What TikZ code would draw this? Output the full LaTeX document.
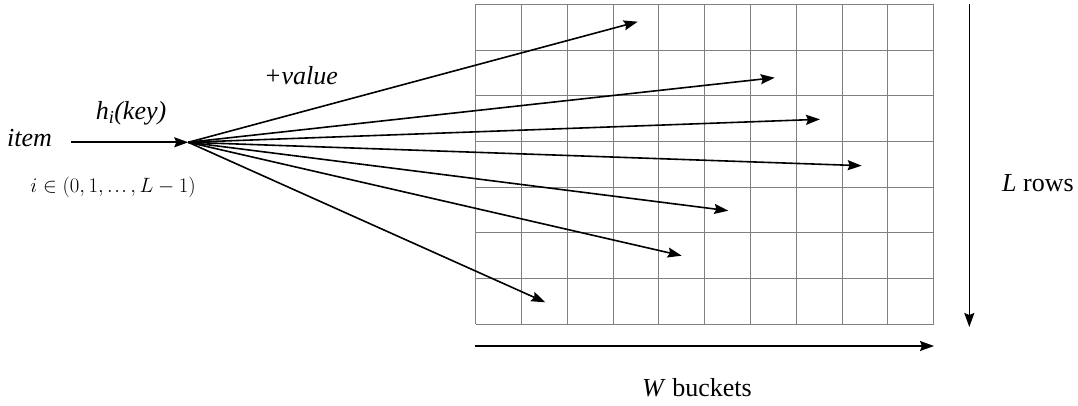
\documentclass[tikz,border=0pt]{standalone}
\usepackage{fontspec}
\setmainfont{Liberation Serif}
\usetikzlibrary{arrows.meta}
\tikzset{
  gridline/.style={draw=black!50, line width=0.9pt},
  arr/.style={draw=black, line width=1.6pt, -{Stealth[length=14pt,width=10pt,inset=2pt]}},
  lbl/.style={inner sep=0pt, font=\fontsize{26}{31}\selectfont},
  mlbl/.style={inner sep=0pt, font=\fontsize{22}{27}\selectfont},
}
\begin{document}
\begin{tikzpicture}[x=1pt,y=-1pt]
\useasboundingbox[fill=white] (0,0) rectangle (1078,406);
% grid
\foreach \i in {0,...,10} {
  \draw[gridline] ({475.7+\i*45.8},4.3) -- ({475.7+\i*45.8},324.3);
}
\foreach \j in {0,...,7} {
  \draw[gridline] (475.7,{4.3+\j*45.714}) -- (933.7,{4.3+\j*45.714});
}
% labels
\node[lbl, anchor=base west] (item) at (7,147) {\itshape item};
\node[lbl, anchor=base] (hkey) at (131,120) {\itshape h\textsubscript{i}(key)};
\node[lbl, anchor=base] (val) at (301,85) {\itshape +value};
\node[mlbl, anchor=base] (range) at (113,193) {$i\in(0,1,\mathinner{.\kern1.5pt.\kern1.5pt.},L-1)$};
\node[lbl, anchor=base west] (lrows) at (1002,192) {\textit{L} rows};
\node[lbl, anchor=base] (wbuck) at (697,396) {\textit{W} buckets};
% coordinates
\coordinate (s) at (71,142.3);
\coordinate (o) at (188.3,142.3);
\coordinate (t1) at (637.7,21.7);
\coordinate (t2) at (774.7,77.7);
\coordinate (t3) at (820,119.3);
\coordinate (t4) at (861.7,165.7);
\coordinate (t5) at (728.3,210.7);
\coordinate (t6) at (681.7,255.7);
\coordinate (t7) at (545.3,302.3);
\coordinate (ltop) at (969.3,4);
\coordinate (lbot) at (969.3,327);
\coordinate (wl) at (475,346);
\coordinate (wr) at (934,346);
% arrows
\draw[arr] (s) -- (o);
\foreach \t in {t1,t2,t3,t4,t5,t6,t7} {
  \draw[arr] (o) -- (\t);
}
\draw[arr] (ltop) -- (lbot);
\draw[arr] (wl) -- (wr);
\end{tikzpicture}
\end{document}
